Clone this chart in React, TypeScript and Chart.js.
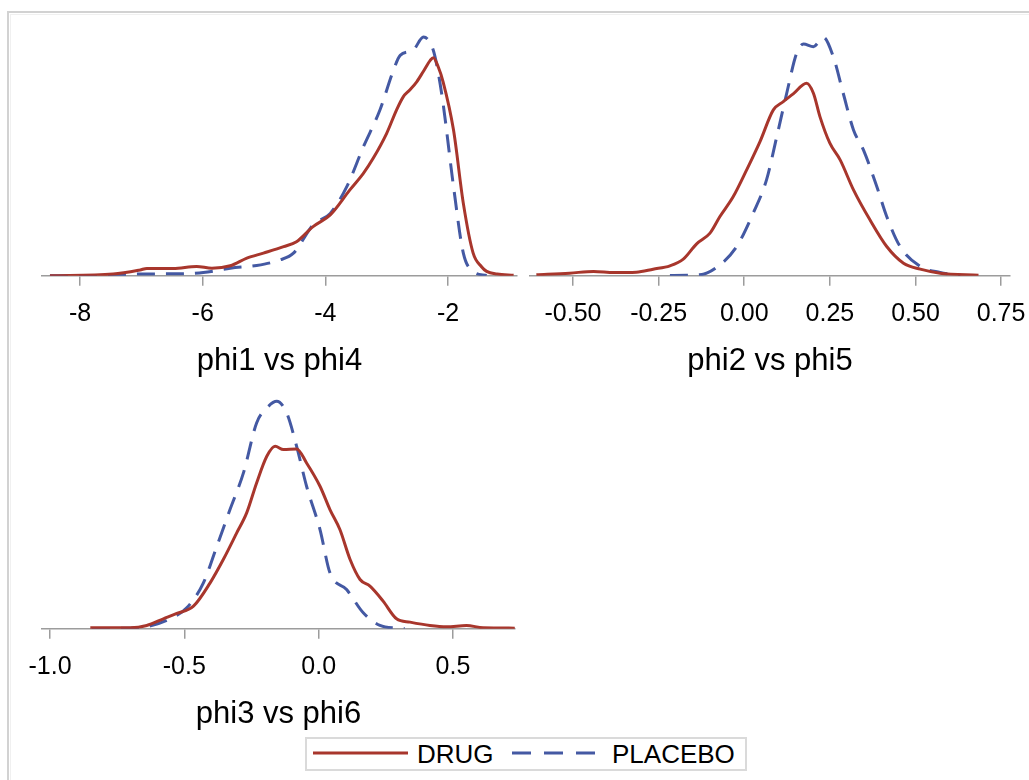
import React, { useEffect, useRef } from "react";
import { Chart, registerables } from "chart.js";

Chart.register(...registerables);

// ---------- data ----------
const seriesNames = ["DRUG", "PLACEBO"];
const panelTitles = ["phi1 vs phi4", "phi2 vs phi5", "phi3 vs phi6"];

// panel 1 : phi1 vs phi4
const p1TickValues = [-8, -6, -4, -2];
const p1TickLabels = ["-8", "-6", "-4", "-2"];
const p1DrugX = [-8.49, -7.46, -7.02, -6.91, -6.48, -6.1, -5.85, -5.55, -5.28, -5.01, -4.68, -4.47, -4.2, -3.92, -3.6, -3.38, -3.22, -3.0, -2.84, -2.73, -2.62, -2.51, -2.4, -2.29, -2.24, -2.16, -2.08, -1.91, -1.75, -1.59, -1.45, -1.37, -1.2, -0.93];
const p1DrugY = [0.0, 0.006, 0.02, 0.025, 0.025, 0.032, 0.026, 0.034, 0.06, 0.077, 0.099, 0.116, 0.167, 0.207, 0.292, 0.348, 0.399, 0.484, 0.563, 0.608, 0.632, 0.659, 0.695, 0.732, 0.741, 0.71, 0.659, 0.495, 0.246, 0.077, 0.03, 0.015, 0.006, 0.002];
const p1PlaceboX = [-8.49, -7.46, -7.02, -6.37, -5.99, -5.55, -5.12, -4.74, -4.52, -4.2, -3.92, -3.65, -3.38, -3.11, -2.89, -2.78, -2.57, -2.4, -2.24, -2.16, -2.08, -1.91, -1.75, -1.59, -1.37];
const p1PlaceboY = [0.0, 0.002, 0.006, 0.007, 0.011, 0.026, 0.035, 0.054, 0.077, 0.173, 0.212, 0.303, 0.438, 0.563, 0.698, 0.749, 0.766, 0.811, 0.766, 0.69, 0.585, 0.303, 0.077, 0.015, 0.001];

// panel 2 : phi2 vs phi5
const p2TickValues = [-0.5, -0.25, 0, 0.25, 0.5, 0.75];
const p2TickLabels = ["-0.50", "-0.25", "0.00", "0.25", "0.50", "0.75"];
const p2DrugX = [-0.607, -0.51, -0.44, -0.38, -0.315, -0.266, -0.217, -0.178, -0.139, -0.1, -0.071, -0.032, 0.007, 0.046, 0.085, 0.114, 0.143, 0.182, 0.202, 0.221, 0.25, 0.28, 0.319, 0.367, 0.416, 0.465, 0.514, 0.572, 0.684];
const p2DrugY = [0.017, 0.045, 0.075, 0.057, 0.062, 0.113, 0.17, 0.284, 0.544, 0.726, 1.009, 1.349, 1.803, 2.285, 2.824, 2.965, 3.096, 3.277, 3.107, 2.71, 2.257, 1.973, 1.463, 0.953, 0.499, 0.215, 0.113, 0.045, 0.011];
const p2PlaceboX = [-0.217, -0.13, -0.071, -0.022, 0.026, 0.065, 0.095, 0.124, 0.153, 0.173, 0.202, 0.231, 0.26, 0.289, 0.319, 0.348, 0.387, 0.416, 0.455, 0.514, 0.572, 0.631];
const p2PlaceboY = [0.006, 0.017, 0.187, 0.499, 1.066, 1.633, 2.37, 3.107, 3.788, 3.946, 3.901, 4.06, 3.731, 3.107, 2.483, 2.143, 1.52, 1.009, 0.499, 0.159, 0.057, 0.011];

// panel 3 : phi3 vs phi6
const p3TickValues = [-1, -0.5, 0, 0.5];
const p3TickLabels = ["-1.0", "-0.5", "0.0", "0.5"];
const p3DrugX = [-0.85, -0.7, -0.64, -0.578, -0.528, -0.466, -0.404, -0.355, -0.305, -0.268, -0.231, -0.193, -0.162, -0.131, -0.082, -0.045, 0.005, 0.042, 0.079, 0.117, 0.154, 0.191, 0.24, 0.29, 0.34, 0.414, 0.476, 0.55, 0.612, 0.73];
const p3DrugY = [0.015, 0.015, 0.05, 0.15, 0.23, 0.34, 0.69, 1.04, 1.44, 1.74, 2.19, 2.59, 2.74, 2.69, 2.7, 2.49, 2.14, 1.79, 1.49, 1.04, 0.74, 0.64, 0.415, 0.15, 0.1, 0.05, 0.03, 0.05, 0.015, 0.01];
const p3PlaceboX = [-0.844, -0.7, -0.64, -0.553, -0.491, -0.429, -0.379, -0.33, -0.28, -0.231, -0.193, -0.156, -0.119, -0.082, -0.045, 0.005, 0.042, 0.104, 0.166, 0.228, 0.29, 0.32];
const p3PlaceboY = [0.005, 0.01, 0.03, 0.15, 0.315, 0.69, 1.24, 1.79, 2.34, 3.09, 3.315, 3.415, 3.24, 2.74, 2.14, 1.49, 0.84, 0.59, 0.24, 0.05, 0.01, 0.005];

// ---------- styles ----------
const FONT = "'Liberation Sans', Arial, Helvetica, sans-serif";
const RED = "#A8362C";
const BLUE = "#4459A3";
const AXIS = "#9c9c9c";
const DASH = [18, 11];

type PanelProps = {
  left: number;
  top: number;
  width: number;
  height: number;
  padLeft: number;
  padRight: number;
  padTop: number;
  xMin: number;
  xMax: number;
  yMax: number;
  tickValues: number[];
  tickLabels: string[];
  title: string;
  drugX: number[];
  drugY: number[];
  placeboX: number[];
  placeboY: number[];
};

function Panel(p: PanelProps) {
  const ref = useRef<HTMLCanvasElement>(null);
  useEffect(() => {
    const chart = new Chart(ref.current as HTMLCanvasElement, {
      type: "line",
      data: {
        datasets: [
          {
            label: seriesNames[0],
            data: p.drugX.map((x, i) => ({ x, y: p.drugY[i] })),
            borderColor: RED,
            backgroundColor: RED,
            borderWidth: 3,
            pointRadius: 0,
            fill: false,
            cubicInterpolationMode: "monotone",
          },
          {
            label: seriesNames[1],
            data: p.placeboX.map((x, i) => ({ x, y: p.placeboY[i] })),
            borderColor: BLUE,
            backgroundColor: BLUE,
            borderWidth: 3,
            borderDash: DASH,
            pointRadius: 0,
            fill: false,
            cubicInterpolationMode: "monotone",
          },
        ],
      },
      options: {
        animation: false,
        responsive: true,
        maintainAspectRatio: false,
        events: [],
        layout: { padding: { left: p.padLeft, right: p.padRight, top: p.padTop, bottom: 0 } },
        plugins: { legend: { display: false }, tooltip: { enabled: false } },
        scales: {
          x: {
            type: "linear",
            min: p.xMin,
            max: p.xMax,
            afterBuildTicks: (scale: any) => {
              scale.ticks = p.tickValues.map((v) => ({ value: v }));
            },
            ticks: {
              autoSkip: false,
              maxRotation: 0,
              padding: 13,
              color: "#000",
              font: { family: FONT, size: 25 },
              callback: (v: any) => {
                const idx = p.tickValues.indexOf(Number(v));
                return idx >= 0 ? p.tickLabels[idx] : "";
              },
            },
            grid: {
              display: true,
              drawOnChartArea: false,
              drawTicks: true,
              tickLength: 10,
              color: AXIS,
              lineWidth: 1.5,
            },
            border: { display: true, color: AXIS, width: 1.5 },
            title: {
              display: true,
              text: p.title,
              color: "#000",
              font: { family: FONT, size: 31 },
              padding: { top: 1, bottom: 0 },
            },
          },
          y: { display: false, min: 0, max: p.yMax },
        },
      },
    } as any);
    return () => chart.destroy();
  }, []);
  return (
    <div style={{ position: "absolute", left: p.left, top: p.top, width: p.width, height: p.height }}>
      <canvas ref={ref} />
    </div>
  );
}

export default function App() {
  return (
    <div
      style={{
        position: "absolute",
        left: 0,
        top: 0,
        width: 1029,
        height: 780,
        overflow: "hidden",
        background: "#fff",
        fontFamily: FONT,
      }}
    >
      {/* outer frame */}
      <div
        style={{
          position: "absolute",
          left: 7,
          top: 11,
          width: 1100,
          height: 900,
          borderTop: "2px solid #d2d2d2",
          borderLeft: "2px solid #d2d2d2",
        }}
      />
      <div
        style={{
          position: "absolute",
          left: 10,
          top: 14,
          width: 1100,
          height: 900,
          borderTop: "1px solid #f0f0f0",
          borderLeft: "1px solid #f0f0f0",
        }}
      />

      <Panel
        left={0}
        top={20}
        width={560}
        height={360}
        padLeft={42}
        padRight={43}
        padTop={10}
        xMin={-8.62}
        xMax={-0.875}
        yMax={0.835}
        tickValues={p1TickValues}
        tickLabels={p1TickLabels}
        title={panelTitles[0]}
        drugX={p1DrugX}
        drugY={p1DrugY}
        placeboX={p1PlaceboX}
        placeboY={p1PlaceboY}
      />
      <Panel
        left={500}
        top={20}
        width={560}
        height={360}
        padLeft={30}
        padRight={50}
        padTop={10}
        xMin={-0.6256}
        xMax={0.776}
        yMax={4.184}
        tickValues={p2TickValues}
        tickLabels={p2TickLabels}
        title={panelTitles[1]}
        drugX={p2DrugX}
        drugY={p2DrugY}
        placeboX={p2PlaceboX}
        placeboY={p2PlaceboY}
      />
      <Panel
        left={0}
        top={384}
        width={560}
        height={349}
        padLeft={42}
        padRight={45}
        padTop={10}
        xMin={-1.0298}
        xMax={0.7308}
        yMax={3.525}
        tickValues={p3TickValues}
        tickLabels={p3TickLabels}
        title={panelTitles[2]}
        drugX={p3DrugX}
        drugY={p3DrugY}
        placeboX={p3PlaceboX}
        placeboY={p3PlaceboY}
      />

      {/* legend */}
      <div
        style={{
          position: "absolute",
          left: 305,
          top: 737,
          width: 442,
          height: 34,
          border: "2px solid #dadada",
          boxSizing: "border-box",
        }}
      />
      <svg style={{ position: "absolute", left: 310, top: 745 }} width={104} height={16}>
        <line x1={3} y1={8} x2={98} y2={8} stroke={RED} strokeWidth={3} />
      </svg>
      <span
        style={{
          position: "absolute",
          left: 417,
          top: 741,
          fontSize: 26,
          lineHeight: "26px",
          color: "#000",
          whiteSpace: "nowrap",
        }}
      >
        {seriesNames[0]}
      </span>
      <svg style={{ position: "absolute", left: 510, top: 745 }} width={90} height={16}>
        <line x1={2} y1={8} x2={85} y2={8} stroke={BLUE} strokeWidth={3} strokeDasharray="19 13" />
      </svg>
      <span
        style={{
          position: "absolute",
          left: 612,
          top: 741,
          fontSize: 26,
          lineHeight: "26px",
          color: "#000",
          whiteSpace: "nowrap",
        }}
      >
        {seriesNames[1]}
      </span>
    </div>
  );
}
